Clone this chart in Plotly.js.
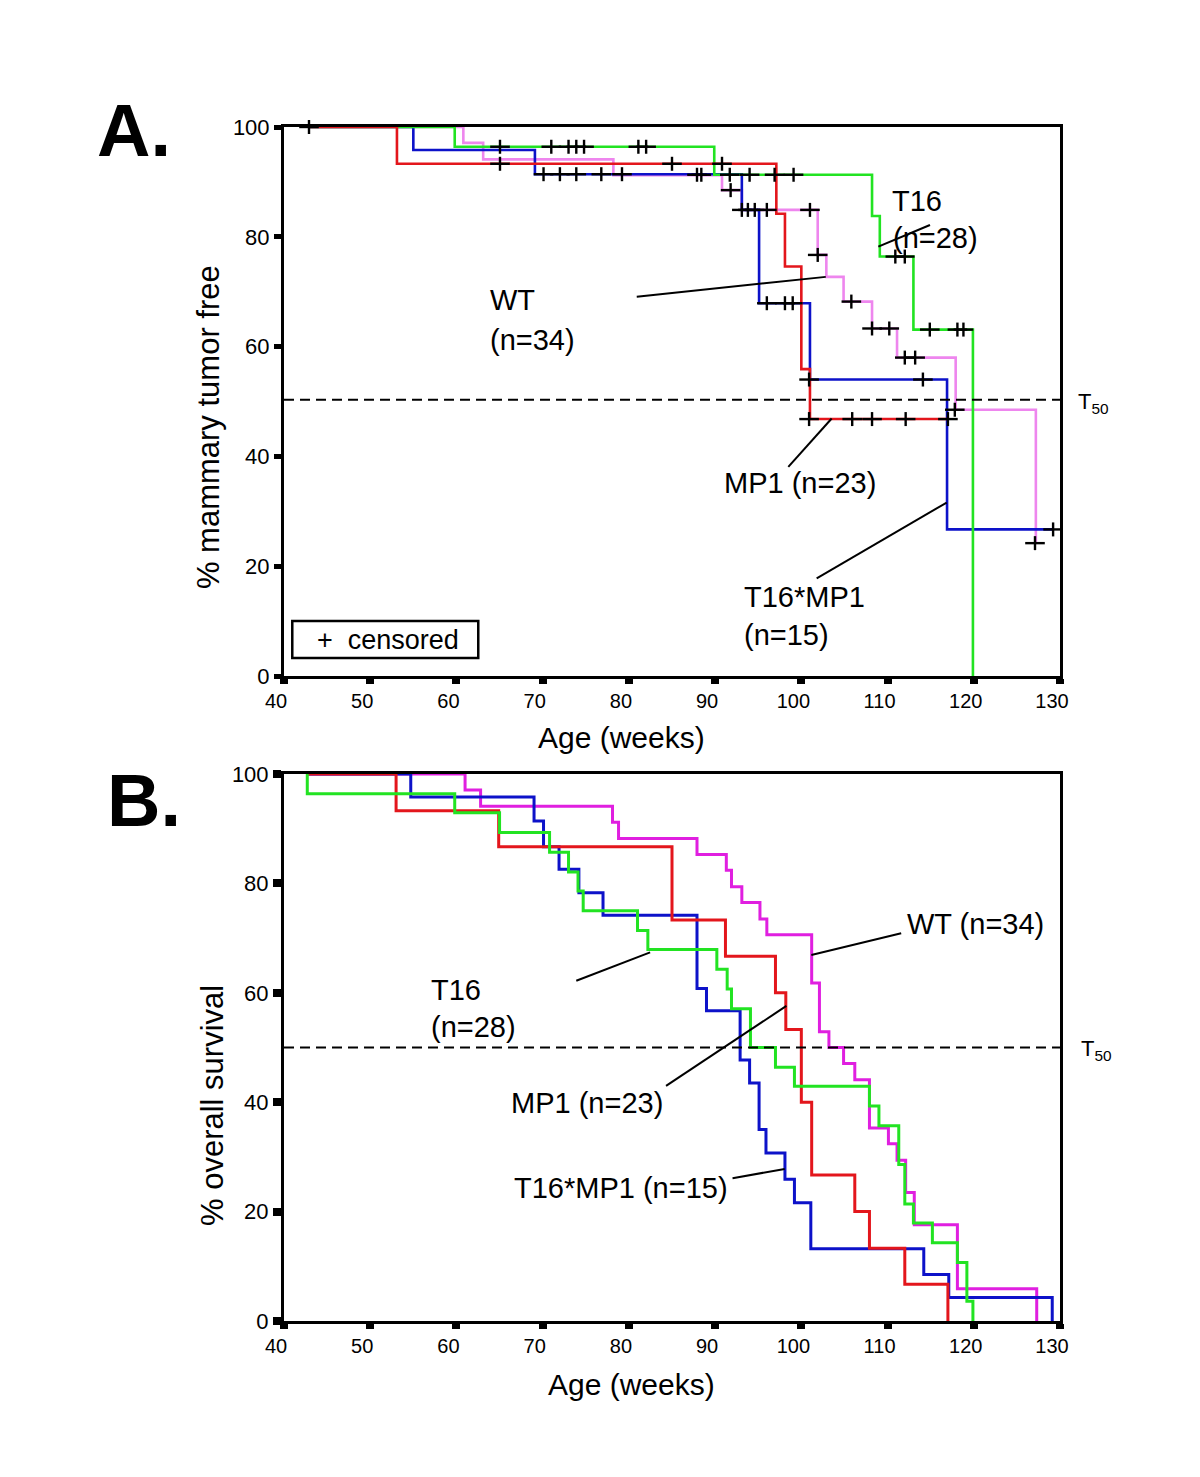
<!DOCTYPE html>
<html><head><meta charset="utf-8">
<script src="https://cdn.plot.ly/plotly-3.0.1.min.js"></script>
<style>body{margin:0;background:#fff}</style>
</head><body>
<div id="chart" style="width:1200px;height:1477px"></div>
<script>
// ---------- Panel A: % mammary tumor free ----------
const aWT_x  = [42.9, 60.8, 63.1, 78.2, 90.8, 93.1, 101.9, 102.9, 104.9, 108.2, 111.1, 117.9, 127.2];
const aWT_y  = [100, 97.1, 94.1, 91.2, 88.5, 84.9, 76.7, 72.7, 68.2, 63.3, 58.0, 48.5, 24.2];
const aT16_x = [42.9, 59.8, 89.9, 108.2, 109.1, 113.0, 119.9];
const aT16_y = [100, 96.4, 91.3, 83.8, 76.4, 63.1, 0];
const aMP1_x = [42.9, 53.1, 97.1, 98.1, 100.0, 101.0, 117.0];
const aMP1_y = [100, 93.3, 84.2, 74.6, 55.9, 46.8, 46.8];
const aTM_x  = [42.9, 55.0, 69.1, 93.1, 95.1, 101.0, 116.9, 129.2];
const aTM_y  = [100, 95.8, 91.4, 84.9, 67.9, 54.0, 26.7, 26.7];
// censored observations (panel A)
const censA_x = [42.9, 65.05, 65.05, 71.0, 73.0, 73.9, 74.8, 81.1, 82.0, 70.1, 72.0, 73.9, 76.8, 79.2,
  85.0, 90.8, 87.9, 88.4, 91.7, 94.0, 96.9, 99.1, 91.8, 93.1, 93.8, 94.6, 96.0, 101.0, 96.0, 98.1, 99.0,
  101.9, 105.8, 110.9, 112.0, 108.2, 110.2, 112.0, 113.2, 114.9, 118.1, 118.8, 100.9, 114.1,
  100.9, 105.9, 108.2, 112.1, 117.0, 117.8, 129.2, 127.1];
const censA_y = [100, 96.4, 93.3, 96.4, 96.4, 96.4, 96.4, 96.4, 96.4, 91.4, 91.4, 91.4, 91.4, 91.4,
  93.3, 93.3, 91.3, 91.3, 91.3, 91.3, 91.3, 91.3, 88.5, 84.9, 84.9, 84.9, 84.9, 84.9, 67.9, 67.9, 67.9,
  76.7, 68.2, 76.4, 76.4, 63.3, 63.3, 58.0, 58.0, 63.1, 63.1, 63.1, 54.0, 54.0,
  46.8, 46.8, 46.8, 46.8, 46.8, 48.5, 26.7, 24.2];

// ---------- Panel B: % overall survival ----------
const bWT_x  = [42.7, 61.0, 62.8, 78.1, 78.8, 87.9, 91.3, 91.9, 93.1, 95.2, 96.0, 101.2, 102.1, 103.2, 104.9, 106.2, 107.9, 110.1, 111.1, 112.1, 113.1, 118.1, 127.3];
const bWT_y  = [100, 97.1, 94.1, 91.2, 88.2, 85.3, 82.4, 79.4, 76.5, 73.5, 70.6, 61.8, 52.9, 50.0, 47.1, 44.1, 35.3, 32.4, 29.4, 23.5, 17.6, 5.9, 0];
const bT16_x = [42.7, 42.7, 59.8, 65.0, 70.8, 73.0, 74.1, 74.7, 81.0, 82.2, 90.2, 91.4, 91.9, 94.1, 97.0, 99.2, 107.9, 109.0, 111.3, 112.0, 113.0, 115.2, 118.1, 119.2, 119.9];
const bT16_y = [100, 96.4, 92.9, 89.3, 85.7, 82.1, 78.6, 75.0, 71.4, 67.9, 64.3, 60.7, 57.1, 50.0, 46.4, 42.9, 39.3, 35.7, 28.6, 21.4, 17.9, 14.3, 10.7, 3.6, 0];
const bMP1_x = [42.7, 53.0, 64.9, 85.0, 91.2, 97.0, 98.2, 100.0, 101.2, 106.2, 107.9, 112.0, 117.0];
const bMP1_y = [100, 93.3, 86.7, 73.3, 66.7, 60.0, 53.3, 40.0, 26.7, 20.0, 13.3, 6.7, 0];
const bTM_x  = [42.7, 54.7, 69.0, 70.1, 71.9, 74.2, 77.0, 87.9, 89.0, 92.9, 94.0, 95.1, 95.9, 98.1, 99.2, 101.1, 114.2, 117.1, 129.1];
const bTM_y  = [100, 95.8, 91.4, 86.7, 82.6, 78.3, 74.2, 60.8, 56.7, 47.7, 43.5, 35.0, 30.7, 25.9, 21.6, 13.2, 8.5, 4.3, 0];

const xTicks = [40, 50, 60, 70, 80, 90, 100, 110, 120, 130];
const yTicks = [0, 20, 40, 60, 80, 100];
const T50 = 50;

const FONT = 'Liberation Sans, Arial, Helvetica, sans-serif';
const C = {red:'#e3161c', blue:'#0d12c9', green:'#22e322', violet:'#ee86ee', magenta:'#e01fe0'};

function step(x, y, color, xa, ya, w) {
  return {x:x, y:y, type:'scatter', mode:'lines', xaxis:xa, yaxis:ya,
    line:{shape:'hv', color:color, width:w}, hoverinfo:'skip', showlegend:false};
}
function cens(x, y, sym, size) {
  return {x:x, y:y, type:'scatter', mode:'markers', xaxis:'x', yaxis:'y', cliponaxis:false,
    marker:{symbol:sym, size:size, color:'#000', line:{color:'#000', width:2.4}},
    hoverinfo:'skip', showlegend:false};
}

const data = [
  step(aWT_x, aWT_y, C.violet, 'x', 'y', 2.6),
  step(aTM_x, aTM_y, C.blue, 'x', 'y', 2.6),
  step(aT16_x, aT16_y, C.green, 'x', 'y', 2.6),
  step(aMP1_x, aMP1_y, C.red, 'x', 'y', 2.6),
  cens(censA_x, censA_y, 'line-ew', 14),
  cens(censA_x, censA_y, 'line-ns', 10),
  step(bWT_x, bWT_y, C.magenta, 'x2', 'y2', 3),
  step(bTM_x, bTM_y, C.blue, 'x2', 'y2', 3),
  step(bMP1_x, bMP1_y, C.red, 'x2', 'y2', 3),
  step(bT16_x, bT16_y, C.green, 'x2', 'y2', 3)
];

function xax(anchor) {
  return {anchor:anchor, range:[40,130], tickvals:xTicks, ticktext:xTicks.map(String),
    showgrid:false, zeroline:false, showline:true, mirror:true, linecolor:'#000', linewidth:3,
    ticks:'outside', ticklen:5, tickwidth:8, tickcolor:'#000', ticklabelshift:-8,
    tickfont:{family:FONT, size:20, color:'#000'}, layer:'below traces'};
}
function yax(anchor, domain, tl, tw) {
  return {anchor:anchor, domain:domain, range:[0,100], tickvals:yTicks, ticktext:yTicks.map(String),
    showgrid:false, zeroline:false, showline:true, mirror:true, linecolor:'#000', linewidth:3,
    ticks:'outside', ticklen:tl, tickwidth:tw, tickcolor:'#000',
    tickfont:{family:FONT, size:22, color:'#000'}, layer:'below traces'};
}

const lab = (text, x, y, xr, yr, size, extra) => Object.assign({text:text, x:x, y:y, xref:xr, yref:yr,
  xanchor:'left', yanchor:'middle', showarrow:false, font:{family:FONT, size:size, color:'#000'}}, extra||{});

const annotations = [
  lab('<b>A.</b>', -0.243, 0.997, 'paper', 'paper', 74),
  lab('<b>B.</b>', -0.231, 0.436, 'paper', 'paper', 74),
  // axis titles
  lab('% mammary tumor free', -0.0979, 0.7487, 'paper', 'paper', 31, {xanchor:'center', textangle:-90}),
  lab('Age (weeks)', 0.4343, 0.4883, 'paper', 'paper', 30, {xanchor:'center'}),
  lab('% overall survival', -0.0928, 0.1809, 'paper', 'paper', 31, {xanchor:'center', textangle:-90}),
  lab('Age (weeks)', 0.4472, -0.0536, 'paper', 'paper', 30, {xanchor:'center'}),
  // panel A labels
  lab('T16', 110.3, 86.6, 'x', 'y', 29),
  lab('(n=28)', 110.4, 79.7, 'x', 'y', 29),
  lab('WT', 63.7, 68.4, 'x', 'y', 29),
  lab('(n=34)', 63.7, 61.2, 'x', 'y', 29),
  lab('MP1 (n=23)', 90.8, 35.2, 'x', 'y', 29),
  lab('T16*MP1', 93.1, 14.4, 'x', 'y', 29),
  lab('(n=15)', 93.1, 7.5, 'x', 'y', 29),
  lab('+  censored', 52.1, 6.6, 'x', 'y', 27, {xanchor:'center'}),
  lab('T<sub>50</sub>', 1.021, 0.769, 'paper', 'paper', 22),
  // panel B labels
  lab('WT (n=34)', 112.07, 72.6, 'x2', 'y2', 29),
  lab('T16', 56.8, 60.5, 'x2', 'y2', 29),
  lab('(n=28)', 56.8, 53.7, 'x2', 'y2', 29),
  lab('MP1 (n=23)', 66.1, 39.9, 'x2', 'y2', 29),
  lab('T16*MP1 (n=15)', 66.46, 24.3, 'x2', 'y2', 29),
  lab('T<sub>50</sub>', 1.025, 0.227, 'paper', 'paper', 22)
];

const ln = (x0, y0, x1, y1, xr, yr) => ({type:'line', x0:x0, y0:y0, x1:x1, y1:y1, xref:xr, yref:yr,
  line:{color:'#000', width:2}});
const shapes = [
  {type:'line', xref:'x', yref:'y', x0:40, x1:130, y0:T50 + 0.3, y1:T50 + 0.3, line:{color:'#000', width:2, dash:'10px,6px'}},
  {type:'line', xref:'x2', yref:'y2', x0:40, x1:130, y0:T50, y1:T50, line:{color:'#000', width:2, dash:'10px,6px'}},
  ln(108.93, 78.2, 114.92, 82.15, 'x', 'y'),
  ln(80.91, 69.1, 102.83, 72.7, 'x', 'y'),
  ln(98.49, 38.1, 103.52, 46.9, 'x', 'y'),
  ln(101.78, 17.8, 116.86, 31.6, 'x', 'y'),
  {type:'rect', xref:'x', yref:'y', x0:40.96, x1:62.53, y0:3.3, y1:10.0, line:{color:'#000', width:2.5}, fillcolor:'rgba(0,0,0,0)'},
  ln(101.16, 66.9, 111.58, 70.9, 'x2', 'y2'),
  ln(73.9, 62.2, 82.46, 67.4, 'x2', 'y2'),
  ln(84.31, 43.0, 98.27, 57.6, 'x2', 'y2'),
  ln(92.02, 26.1, 98.07, 27.8, 'x2', 'y2')
];

const layout = {
  width:1200, height:1477, paper_bgcolor:'#fff', plot_bgcolor:'#fff',
  margin:{l:284, r:140, t:127, b:156}, showlegend:false,
  font:{family:FONT, color:'#000'},
  xaxis: xax('y'),
  yaxis: yax('x', [0.5402, 1], 7, 5),
  xaxis2: xax('y2'),
  yaxis2: yax('x2', [0, 0.4581], 8, 8),
  annotations: annotations,
  shapes: shapes
};

Plotly.newPlot('chart', data, layout, {displayModeBar:false, staticPlot:true});
</script>
</body></html>
